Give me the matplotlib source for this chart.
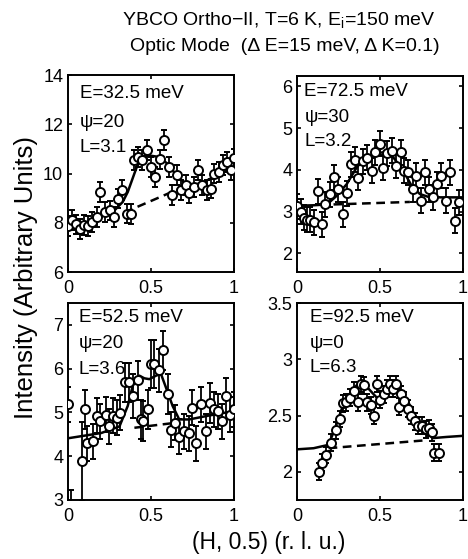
import numpy as np
import matplotlib.pyplot as plt

plt.rcParams['font.family'] = ['Liberation Sans', 'DejaVu Sans']
plt.rcParams['mathtext.fontset'] = 'custom'
plt.rcParams['mathtext.rm'] = 'Liberation Sans'
plt.rcParams['mathtext.it'] = 'Liberation Sans'

# Data : E = 32.5 meV
h1 = [0.0, 0.024, 0.05, 0.075, 0.095, 0.12, 0.145, 0.175, 0.195, 0.225, 0.25, 0.275, 0.30, 0.325,
      0.355, 0.38, 0.40, 0.42, 0.447, 0.477, 0.50, 0.527, 0.553, 0.577, 0.607, 0.628, 0.658, 0.682,
      0.708, 0.728, 0.758, 0.783, 0.809, 0.835, 0.859, 0.879, 0.909, 0.936, 0.96, 0.984, 1.0]
i1 = [7.87, 8.1, 7.93, 7.76, 7.9, 7.86, 8.03, 8.24, 9.25, 8.44, 8.5, 8.24, 8.98, 9.32,
      8.37, 8.35, 10.54, 10.68, 10.54, 10.95, 10.27, 9.86, 10.57, 11.36, 10.27, 9.12, 9.93, 9.32,
      9.53, 9.19, 9.46, 10.14, 9.53, 9.32, 9.39, 10.0, 10.07, 10.34, 10.47, 10.14, 10.61]
e1 = 0.4
fit1_h = [0, 0.1, 0.2, 0.28, 0.33, 0.36, 0.40, 0.43, 0.46, 0.50, 0.54, 0.60, 0.66, 0.71, 0.76, 0.80, 0.90, 1.0]
fit1_i = [7.85, 7.95, 8.25, 8.5, 8.85, 9.25, 10.0, 10.55, 10.72, 10.72, 10.68, 10.4, 9.86, 9.6, 9.55, 9.6, 9.93, 10.27]
bg1_h = [0.34, 0.66]
bg1_i = [8.42, 9.35]

# Data : E = 72.5 meV
h2 = [0.0, 0.024, 0.04, 0.06, 0.08, 0.10, 0.124, 0.15, 0.17, 0.196, 0.224, 0.244, 0.276, 0.30,
      0.324, 0.35, 0.37, 0.396, 0.424, 0.45, 0.47, 0.50, 0.52, 0.54, 0.57, 0.596, 0.624, 0.644,
      0.67, 0.696, 0.716, 0.744, 0.77, 0.796, 0.82, 0.844, 0.87, 0.90, 0.92, 0.95, 0.976]
i2 = [3.13, 3.0, 2.85, 2.8, 2.8, 2.74, 3.49, 2.7, 3.18, 3.41, 3.82, 3.54, 2.93, 3.44,
      4.13, 4.24, 3.81, 4.21, 4.29, 3.98, 4.42, 4.62, 4.05, 4.4, 4.46, 4.1, 4.42, 3.98,
      3.94, 3.54, 3.86, 3.26, 3.94, 3.54, 3.34, 3.65, 3.86, 3.26, 3.94, 2.78, 3.22]
e2 = 0.3
fit2_h = [0, 0.1, 0.18, 0.24, 0.30, 0.36, 0.40, 0.44, 0.48, 0.52, 0.58, 0.64, 0.69, 0.74, 0.80, 0.90, 1.0]
fit2_i = [3.14, 3.15, 3.17, 3.38, 3.66, 4.06, 4.24, 4.34, 4.40, 4.42, 4.30, 3.98, 3.62, 3.42, 3.34, 3.34, 3.34]
bg2_h = [0.22, 0.68]
bg2_i = [3.17, 3.23]

# Data : E = 52.5 meV
h3 = [0.0, 0.02, 0.084, 0.10, 0.114, 0.15, 0.174, 0.194, 0.226, 0.246, 0.27, 0.294, 0.314, 0.346,
      0.37, 0.394, 0.42, 0.44, 0.454, 0.48, 0.50, 0.52, 0.546, 0.574, 0.60, 0.62, 0.646, 0.67,
      0.70, 0.726, 0.746, 0.77, 0.80, 0.83, 0.854, 0.88, 0.906, 0.93, 0.95, 0.974, 1.0]
i3 = [5.19, 2.75, 3.88, 5.07, 4.30, 4.34, 4.92, 4.80, 4.95, 4.68, 4.92, 4.88, 4.99, 5.69,
      5.69, 5.38, 5.73, 4.84, 4.80, 5.07, 6.11, 6.11, 5.96, 6.42, 5.42, 4.61, 4.76, 4.45,
      4.57, 4.53, 5.11, 4.30, 5.19, 4.57, 5.22, 5.07, 5.03, 4.80, 5.38, 4.95, 5.07]
e3 = [0.4, 0.48, 0.9, 0.45, 0.4, 0.4, 0.4, 0.4, 0.4, 0.4, 0.4, 0.4, 0.4, 0.45,
      0.45, 0.5, 0.45, 0.45, 0.45, 0.45, 0.55, 0.55, 0.5, 0.45, 0.45, 0.4, 0.4, 0.4,
      0.4, 0.4, 0.4, 0.4, 0.4, 0.4, 0.45, 0.4, 0.4, 0.4, 0.4, 0.4, 0.4]
fit3_h = [0, 0.1, 0.2, 0.31, 0.36, 0.39, 0.43, 0.46, 0.49, 0.53, 0.56, 0.59, 0.63, 0.67, 0.73, 0.85, 1.0]
fit3_i = [4.41, 4.47, 4.53, 4.68, 5.15, 5.61, 5.84, 5.78, 5.76, 5.84, 5.88, 5.57, 5.15, 4.84, 4.84, 4.93, 5.03]
bg3_h = [0.40, 0.64]
bg3_i = [4.65, 4.76]

# Data : E = 92.5 meV
h4 = [0.13, 0.153, 0.177, 0.203, 0.233, 0.257, 0.277, 0.293, 0.317, 0.343, 0.369, 0.388, 0.402, 0.422,
      0.448, 0.462, 0.482, 0.502, 0.522, 0.542, 0.562, 0.576, 0.596, 0.612, 0.627, 0.647, 0.667, 0.687,
      0.711, 0.731, 0.751, 0.775, 0.795, 0.815, 0.827, 0.855]
i4 = [2.0, 2.08, 2.15, 2.26, 2.37, 2.47, 2.61, 2.62, 2.66, 2.72, 2.62, 2.78, 2.77, 2.62,
      2.59, 2.50, 2.78, 2.64, 2.69, 2.74, 2.78, 2.74, 2.78, 2.58, 2.69, 2.63, 2.56, 2.50,
      2.45, 2.41, 2.41, 2.38, 2.39, 2.35, 2.17, 2.17]
e4 = 0.075
fit4_h = [0, 0.1, 0.19, 0.23, 0.27, 0.31, 0.36, 0.39, 0.43, 0.48, 0.51, 0.55, 0.59, 0.63, 0.67, 0.71,
          0.75, 0.79, 0.82, 0.9, 1.0]
fit4_i = [2.2, 2.21, 2.24, 2.39, 2.56, 2.68, 2.77, 2.78, 2.74, 2.66, 2.66, 2.72, 2.77, 2.72, 2.62, 2.50,
          2.41, 2.33, 2.30, 2.31, 2.32]
bg4_h = [0.19, 0.77]
bg4_i = [2.21, 2.28]

labels = [["E=32.5 meV", "\u03c8=20", "L=3.1"],
          ["E=72.5 meV", "\u03c8=30", "L=3.2"],
          ["E=52.5 meV", "\u03c8=20", "L=3.6"],
          ["E=92.5 meV", "\u03c8=0", "L=6.3"]]
ylims = [(6, 14), (1.55, 6.25), (3, 7.5), (1.75, 3.5)]
yticks = [[6, 8, 10, 12, 14], [2, 3, 4, 5, 6], [3, 4, 5, 6, 7], [2, 2.5, 3, 3.5]]
ytl = [["6", "8", "10", "12", "14"], ["2", "3", "4", "5", "6"], ["3", "4", "5", "6", "7"],
       ["2", "2.5", "3", "3.5"]]

W, H = 468, 559
fig = plt.figure(figsize=(W / 100, H / 100), dpi=100)

# axes en pixels : gauche, haut, droite, bas
boxes = [(68, 75, 234, 272), (297, 76, 463, 272), (68, 303, 234, 500), (297, 303, 463, 500)]
txt_pos = [(0.07, [93, 122, 147]), (0.045, [92, 117, 141]),
           (0.066, [317, 343, 369]), (0.078, [317, 343, 368])]

data = [(h1, i1, e1, fit1_h, fit1_i, bg1_h, bg1_i),
        (h2, i2, e2, fit2_h, fit2_i, bg2_h, bg2_i),
        (h3, i3, e3, fit3_h, fit3_i, bg3_h, bg3_i),
        (h4, i4, e4, fit4_h, fit4_i, bg4_h, bg4_i)]

for k in range(4):
    l, t, r, b = boxes[k]
    ax = fig.add_axes([l / W, 1 - b / H, (r - l) / W, (b - t) / H])
    hx, iy, ee, fh, fi, bh, bi = data[k]
    ax.plot(fh, fi, "-", color="black", lw=1.8, zorder=2)
    ax.plot(bh, bi, "--", color="black", lw=1.8, dashes=(3.5, 2.2), zorder=2)
    ax.errorbar(hx, iy, yerr=ee, fmt="o", color="black", ms=6.5, mfc="white", mec="black",
                mew=1.4, elinewidth=1.3, capsize=2.5, capthick=1.3, zorder=3)
    ax.set_xlim(0, 1)
    ax.set_ylim(ylims[k])
    ax.set_xticks([0, 0.5, 1])
    ax.set_xticklabels(["0", "0.5", "1"])
    ax.set_yticks(yticks[k])
    ax.set_yticklabels(ytl[k])
    ax.tick_params(direction="in", top=True, right=True, length=3, width=1.2, labelsize=13)
    ax.tick_params(axis="x", pad=5.5)
    ax.tick_params(axis="y", pad=3.5)
    for s in ax.spines.values():
        s.set_linewidth(1.4)
    xf, ys = txt_pos[k]
    for j in range(3):
        ax.text(xf, (b - ys[j]) / (b - t), labels[k][j], transform=ax.transAxes,
                fontsize=13.5, va="center", ha="left")

fig.text(0.596, 1 - 25 / H, "YBCO Ortho\u2212II, T=6 K, E$_{\\rm i}$=150 meV", fontsize=14,
         ha="center", va="baseline")
fig.text(0.608, 1 - 51 / H, "Optic Mode  (\u0394 E=15 meV, \u0394 K=0.1)", fontsize=14,
         ha="center", va="baseline")
fig.text(0.055, 1 - 277.5 / H, "Intensity (Arbitrary Units)", rotation=90, fontsize=18.5,
         ha="center", va="center")
fig.text(0.574, 1 - 542 / H, "(H, 0.5) (r. l. u.)", fontsize=16.5, ha="center", va="center")

fig.savefig("out.png", dpi=100)
